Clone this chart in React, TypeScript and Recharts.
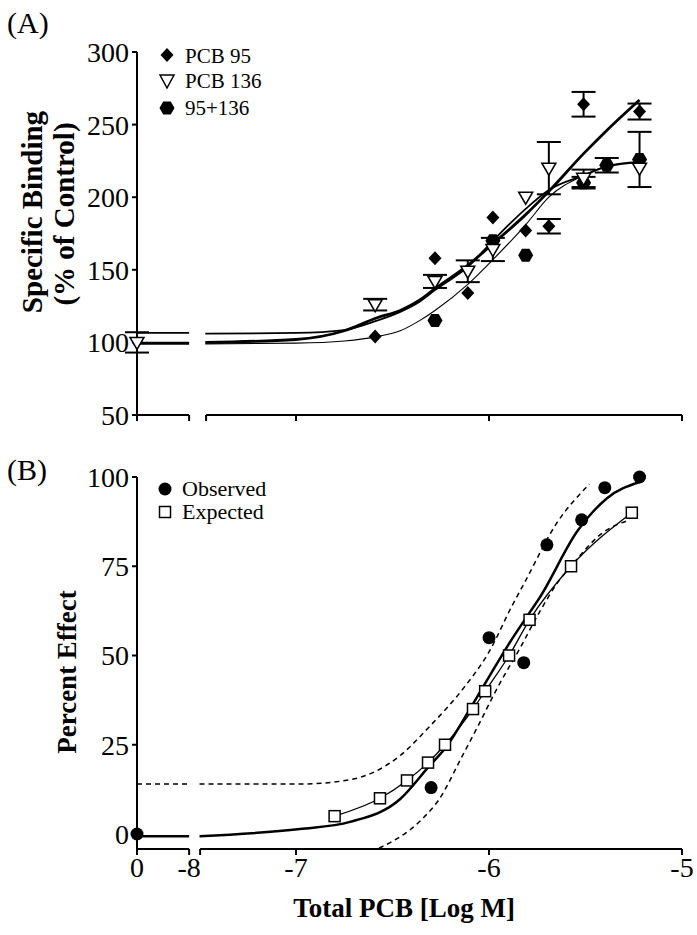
import React from "react";
import { ComposedChart, Line, Scatter, XAxis, YAxis, ErrorBar, ReferenceLine } from "recharts";

const FONT = "'Liberation Serif', 'Times New Roman', serif";

// broken x axis: control sits left of the break, log scale right of it
const CTRL_POS = -7.824;
const BREAK_L = -7.554;
const BREAK_R_A = -7.466;
const BREAK_R_B = -7.497;

// ---- panel A: specific binding (% of control) ----
const logA = [-6.59, -6.28, -6.11, -5.98, -5.81, -5.69, -5.51, -5.22];
const pcb95 = [104, 158, 134, 186, 177, 180, 264, 259];
const pcb95Err = [0, 0, 0, 0, 0, 5, 8.5, 5.5];
const pcb136 = [126, 142, 149, 164, 200, 220, 213, 220];
const pcb136Err = [4, 4.5, 7.5, 8, 0, 18, 6, 0];
const logMix = [-6.28, -5.98, -5.81, -5.51, -5.39, -5.22];
const mix = [115, 170, 160, 210, 222, 226];
const mixErr = [0, 0, 0, 4, 5, 19];
const control136 = 100;
const control136Err = 7;

// fitted curves
const fitLogA = [-7.47, -7.0, -6.75, -6.58, -6.46, -6.36, -6.28, -6.11, -5.98, -5.81, -5.69, -5.51, -5.39, -5.22];
const fit95 = [100, 102, 108, 117, 122, 129, 137, 153, 168, 188, 204, 230, 246, 267];
const fit136 = [106, 106.5, 108.5, 115, 121, 128, 136, 152, 170, 192, 205, 215, 221, 224];
const fitMix = [99, 99.5, 101, 104, 108, 115, 122, 140, 157, 181, 200, 215, 221.5, 224.5];
const fitCtrl95 = 99.5;
const fitCtrl136 = 106.5;
const fitCtrlMix = 99;

const yTicksA = [50, 100, 150, 200, 250, 300];

// ---- panel B: percent effect ----
const logObs = [0, -6.3, -6.0, -5.82, -5.7, -5.52, -5.4, -5.22];
const observed = [0, 13, 55, 48, 81, 88, 97, 100];
const logExp = [-6.8, -6.565, -6.425, -6.316, -6.228, -6.083, -6.02, -5.896, -5.79, -5.575, -5.26];
const expected = [5, 10, 15, 20, 25, 35, 40, 50, 60, 75, 90];

const fitLogObs = [-7.5, -6.98, -6.72, -6.46, -6.31, -6.22, -6.11, -6.0, -5.9, -5.79, -5.74, -5.54, -5.39, -5.22];
const fitObs = [-0.6, 1.4, 3.4, 9.8, 19, 24.5, 34, 44, 53, 62, 66, 85, 94, 98.6];
const fitCtrlObs = -0.6;

const upperLog = [-7.5, -6.98, -6.72, -6.46, -6.31, -6.13, -6.0, -5.88, -5.82, -5.65, -5.48];
const upperBand = [14, 14, 15.2, 22, 30, 41, 51, 64, 70, 87, 98];
const upperCtrl = 14;
const lowerLog = [-6.57, -6.35, -6.26, -6.14, -6.05, -5.96, -5.84, -5.74, -5.65, -5.56, -5.42, -5.27];
const lowerBand = [-4, 4, 9.6, 21.7, 31, 40.6, 52, 62, 70, 76, 84, 88];

const yTicksB = [0, 25, 50, 75, 100];

const toPos = (x: number) => (x === 0 ? CTRL_POS : x);
const pts = (xs: number[], ys: number[], errs?: number[]) =>
  xs.map((x, i) => ({ x: toPos(x), y: ys[i], err: errs ? errs[i] : 0 }));
const flat = (v: number) => [
  { x: CTRL_POS, y: v },
  { x: BREAK_L, y: v },
];

const data95 = pts(logA, pcb95, pcb95Err);
const data136 = [{ x: CTRL_POS, y: control136, err: control136Err }, ...pts(logA, pcb136, pcb136Err)];
const dataMix = pts(logMix, mix, mixErr);

// markers
const diamond = (p: any) => (
  <polygon points={`${p.cx},${p.cy - 7} ${p.cx + 6.5},${p.cy} ${p.cx},${p.cy + 7} ${p.cx - 6.5},${p.cy}`} fill="#000" />
);
const triangle = (p: any) => (
  <polygon
    points={`${p.cx - 7},${p.cy - 5} ${p.cx + 7},${p.cy - 5} ${p.cx},${p.cy + 7}`}
    fill="#fff"
    stroke="#000"
    strokeWidth={1.5}
  />
);
const hexPoints = (cx: number, cy: number, r: number) =>
  [0, 60, 120, 180, 240, 300]
    .map((a) => `${cx + r * Math.cos((a * Math.PI) / 180)},${cy + r * Math.sin((a * Math.PI) / 180)}`)
    .join(" ");
const hexagon = (p: any) => <polygon points={hexPoints(p.cx, p.cy, 7.5)} fill="#000" />;
const dot = (p: any) => <circle cx={p.cx} cy={p.cy} r={6.5} fill="#000" />;
const square = (p: any) => (
  <rect x={p.cx - 5.5} y={p.cy - 5.5} width={11} height={11} fill="#fff" stroke="#000" strokeWidth={1.5} />
);

const tickStyle = { fill: "#000", fontSize: 28, fontFamily: FONT };
const axisStroke = { stroke: "#000", strokeWidth: 2 };
const titleStyle = { fontFamily: FONT, fontWeight: 700, fontSize: 27, fill: "#000" };

const YTitleA = () => (
  <g>
    <text transform="rotate(-90 42 212)" x={42} y={212} textAnchor="middle" style={{ ...titleStyle, fontSize: 29 }}>
      Specific Binding
    </text>
    <text transform="rotate(-90 74 214)" x={74} y={214} textAnchor="middle" style={{ ...titleStyle, fontSize: 29 }}>
      (% of Control)
    </text>
  </g>
);

const YTitleB = () => (
  <text transform="rotate(-90 76 232)" x={76} y={232} textAnchor="middle" style={titleStyle}>
    Percent Effect
  </text>
);

const XTitleB = () => (
  <text x={404} y={477} textAnchor="middle" style={{ ...titleStyle, fontSize: 27 }}>
    Total PCB [Log M]
  </text>
);

const tickLabel = (v: number) => {
  if (v === CTRL_POS) return "0";
  if (v === BREAK_L) return "-8";
  if (v === BREAK_R_A || v === BREAK_R_B) return "";
  return String(v);
};

const legendText = { fontFamily: FONT, fontSize: 21, fill: "#000" };

export default function App() {
  return (
    <div style={{ position: "absolute", left: 0, top: 0, width: 697, height: 935, background: "#fff" }}>
      <div style={{ position: "absolute", left: 7, top: 8, fontFamily: FONT, fontSize: 30, lineHeight: 1 }}>(A)</div>
      <div style={{ position: "absolute", left: 7, top: 455, fontFamily: FONT, fontSize: 30, lineHeight: 1 }}>(B)</div>

      <div style={{ position: "absolute", left: 0, top: 0 }}>
        <ComposedChart width={697} height={440} margin={{ top: 52, right: 15, bottom: 5, left: 77 }}>
          <XAxis
            type="number"
            dataKey="x"
            domain={[CTRL_POS, -5]}
            ticks={[CTRL_POS, BREAK_L, BREAK_R_A, -7, -6, -5]}
            interval={0}
            axisLine={false}
            tickLine={axisStroke}
            tickSize={6}
            tickFormatter={() => ""}
            height={20}
          />
          <YAxis
            type="number"
            dataKey="y"
            domain={[50, 300]}
            ticks={yTicksA}
            interval={0}
            width={60}
            axisLine={axisStroke}
            tickLine={axisStroke}
            tickSize={5}
            tickMargin={3}
            tick={tickStyle}
            label={<YTitleA />}
          />
          <ReferenceLine segment={[{ x: CTRL_POS, y: 50 }, { x: BREAK_L, y: 50 }]} stroke="#000" strokeWidth={2} />
          <ReferenceLine segment={[{ x: BREAK_R_A, y: 50 }, { x: -5, y: 50 }]} stroke="#000" strokeWidth={2} />

          <Line data={flat(fitCtrl136)} dataKey="y" stroke="#000" strokeWidth={1.8} dot={false} isAnimationActive={false} />
          <Line data={flat(fitCtrl95)} dataKey="y" stroke="#000" strokeWidth={2.8} dot={false} isAnimationActive={false} />
          <Line data={flat(fitCtrlMix)} dataKey="y" stroke="#000" strokeWidth={1.1} dot={false} isAnimationActive={false} />
          <Line data={pts(fitLogA, fit136)} dataKey="y" type="monotone" stroke="#000" strokeWidth={1.8} dot={false} isAnimationActive={false} />
          <Line data={pts(fitLogA, fit95)} dataKey="y" type="monotone" stroke="#000" strokeWidth={2.8} dot={false} isAnimationActive={false} />
          <Line data={pts(fitLogA, fitMix)} dataKey="y" type="monotone" stroke="#000" strokeWidth={1.1} dot={false} isAnimationActive={false} />

          <Scatter data={dataMix} dataKey="y" shape={hexagon} isAnimationActive={false}>
            <ErrorBar dataKey="err" direction="y" width={12} stroke="#000" strokeWidth={2} />
          </Scatter>
          <Scatter data={data95} dataKey="y" shape={diamond} isAnimationActive={false}>
            <ErrorBar dataKey="err" direction="y" width={12} stroke="#000" strokeWidth={2} />
          </Scatter>
          <Scatter data={data136} dataKey="y" shape={triangle} isAnimationActive={false}>
            <ErrorBar dataKey="err" direction="y" width={12} stroke="#000" strokeWidth={2} />
          </Scatter>
        </ComposedChart>
      </div>

      <svg width={300} height={130} style={{ position: "absolute", left: 0, top: 0 }}>
        <polygon points="167,48 173.5,55 167,62 160.5,55" fill="#000" />
        <text x={185} y={63} style={legendText}>PCB 95</text>
        <polygon points="160,75 174,75 167,88" fill="#fff" stroke="#000" strokeWidth={1.5} />
        <text x={185} y={88} style={legendText}>PCB 136</text>
        <polygon points={hexPoints(167, 108, 7.5)} fill="#000" />
        <text x={185} y={115} style={legendText}>95+136</text>
      </svg>

      <div style={{ position: "absolute", left: 0, top: 440 }}>
        <ComposedChart width={697} height={495} margin={{ top: 37, right: 15, bottom: 6, left: 77 }}>
          <XAxis
            type="number"
            dataKey="x"
            domain={[CTRL_POS, -5]}
            ticks={[CTRL_POS, BREAK_L, BREAK_R_B, -7, -6, -5]}
            interval={0}
            axisLine={false}
            tickLine={axisStroke}
            tickSize={6}
            tickMargin={2}
            tick={tickStyle}
            tickFormatter={tickLabel}
            height={80}
            label={<XTitleB />}
          />
          <YAxis
            type="number"
            dataKey="y"
            domain={[-4.2, 100]}
            ticks={yTicksB}
            interval={0}
            width={60}
            axisLine={axisStroke}
            tickLine={axisStroke}
            tickSize={5}
            tickMargin={3}
            tick={tickStyle}
            label={<YTitleB />}
          />
          <ReferenceLine segment={[{ x: CTRL_POS, y: -4.2 }, { x: BREAK_L, y: -4.2 }]} stroke="#000" strokeWidth={2} />
          <ReferenceLine segment={[{ x: BREAK_R_B, y: -4.2 }, { x: -5, y: -4.2 }]} stroke="#000" strokeWidth={2} />

          <Line data={flat(upperCtrl)} dataKey="y" stroke="#000" strokeWidth={1.5} strokeDasharray="5 4" dot={false} isAnimationActive={false} />
          <Line data={flat(fitCtrlObs)} dataKey="y" stroke="#000" strokeWidth={2.5} dot={false} isAnimationActive={false} />
          <Line data={pts(upperLog, upperBand)} dataKey="y" type="monotone" stroke="#000" strokeWidth={1.5} strokeDasharray="5 4" dot={false} isAnimationActive={false} />
          <Line data={pts(lowerLog, lowerBand)} dataKey="y" type="monotone" stroke="#000" strokeWidth={1.5} strokeDasharray="5 4" dot={false} isAnimationActive={false} />
          <Line data={pts(fitLogObs, fitObs)} dataKey="y" type="monotone" stroke="#000" strokeWidth={2.5} dot={false} isAnimationActive={false} />
          <Line data={pts(logExp, expected)} dataKey="y" type="monotone" stroke="#000" strokeWidth={1.3} dot={false} isAnimationActive={false} />

          <Scatter data={pts(logObs, observed)} dataKey="y" shape={dot} isAnimationActive={false} />
          <Scatter data={pts(logExp, expected)} dataKey="y" shape={square} isAnimationActive={false} />
        </ComposedChart>
      </div>

      <svg width={300} height={80} style={{ position: "absolute", left: 0, top: 470 }}>
        <circle cx={165} cy={19} r={6.5} fill="#000" />
        <text x={182} y={26} style={{ ...legendText, fontSize: 22 }}>Observed</text>
        <rect x={159.5} y={36.5} width={11} height={11} fill="#fff" stroke="#000" strokeWidth={1.5} />
        <text x={182} y={49} style={{ ...legendText, fontSize: 22 }}>Expected</text>
      </svg>
    </div>
  );
}
